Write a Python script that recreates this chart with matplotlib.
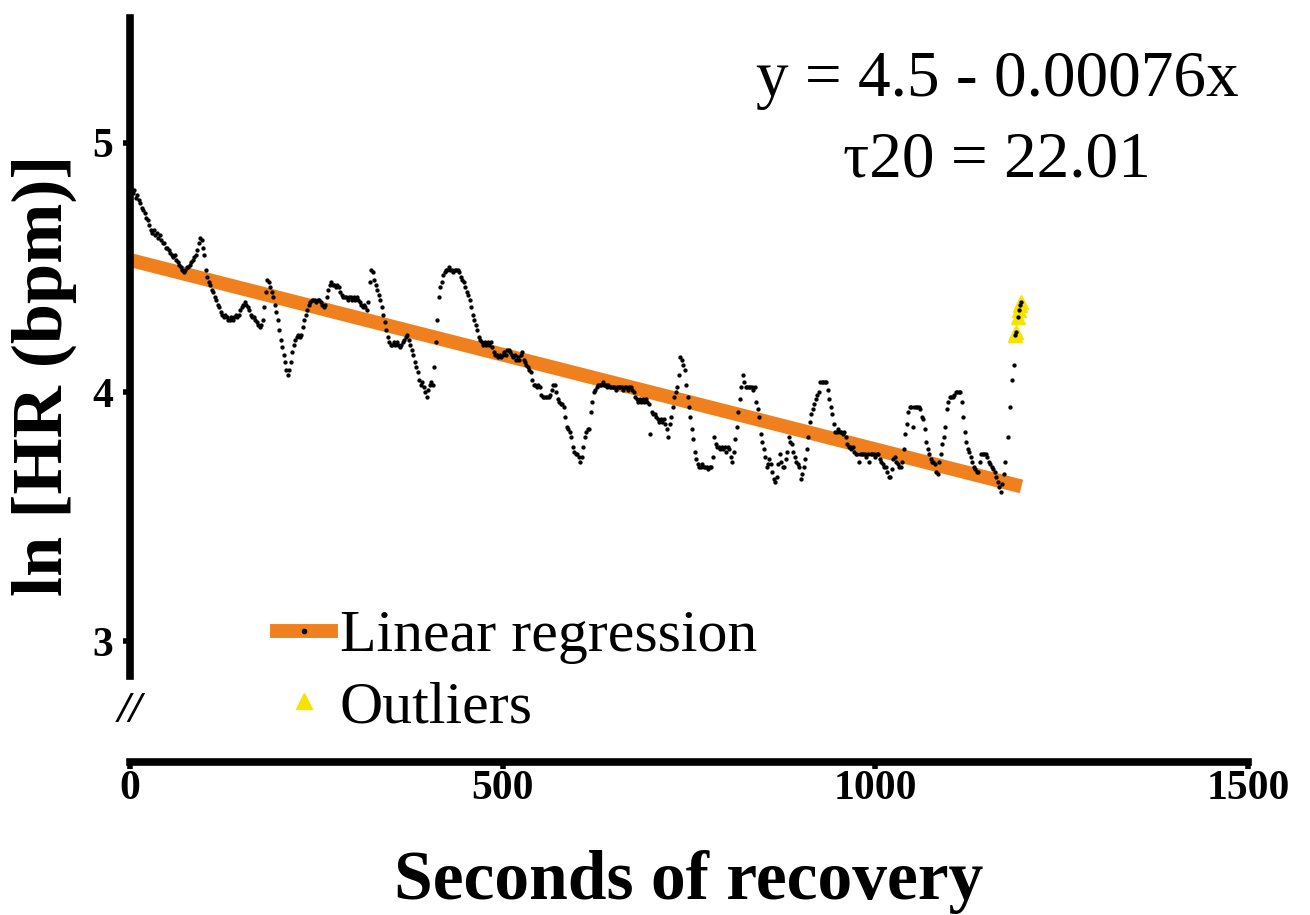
import numpy as np
import matplotlib.pyplot as plt
from matplotlib.lines import Line2D

plt.rcParams['font.family'] = ['Liberation Serif', 'DejaVu Serif']

# recovery trace: seconds and ln(HR)
sec = [2, 4, 6, 8, 10, 12, 14, 16, 18, 20, 22, 24, 26, 28, 30, 32, 34, 36, 38, 40,
       42, 44, 46, 48, 50, 52, 54, 56, 58, 60, 62, 64, 66, 68, 70, 72, 74, 76, 78, 80,
       82, 84, 86, 88, 90, 92, 94, 96, 98, 100, 102, 104, 106, 108, 110, 112, 114, 116, 118, 120,
       122, 124, 126, 128, 130, 132, 134, 136, 138, 140, 142, 144, 146, 148, 150, 152, 154, 156, 158, 160,
       162, 164, 166, 168, 170, 172, 174, 176, 178, 180, 182, 184, 186, 188, 190, 192, 194, 196, 198, 200,
       202, 204, 206, 208, 210, 212, 214, 216, 218, 220, 222, 224, 226, 228, 230, 232, 234, 236, 238, 240,
       242, 244, 246, 248, 250, 252, 254, 256, 258, 260, 262, 264, 266, 268, 270, 272, 274, 276, 278, 280,
       282, 284, 286, 288, 290, 292, 294, 296, 298, 300, 302, 304, 306, 308, 310, 312, 314, 316, 318, 320,
       322, 324, 326, 328, 330, 332, 334, 336, 338, 340, 342, 344, 346, 348, 350, 352, 354, 356, 358, 360,
       362, 364, 366, 368, 370, 372, 374, 376, 378, 380, 382, 384, 386, 388, 390, 392, 394, 396, 398, 400,
       402, 404, 406, 408, 410, 412, 414, 416, 418, 420, 422, 424, 426, 428, 430, 432, 434, 436, 438, 440,
       442, 444, 446, 448, 450, 452, 454, 456, 458, 460, 462, 464, 466, 468, 470, 472, 474, 476, 478, 480,
       482, 484, 486, 488, 490, 492, 494, 496, 498, 500, 502, 504, 506, 508, 510, 512, 514, 516, 518, 520,
       522, 524, 526, 528, 530, 532, 534, 536, 538, 540, 542, 544, 546, 548, 550, 552, 554, 556, 558, 560,
       562, 564, 566, 568, 570, 572, 574, 576, 578, 580, 582, 584, 586, 588, 590, 592, 594, 596, 598, 600,
       602, 604, 606, 608, 610, 612, 614, 616, 618, 620, 622, 624, 626, 628, 630, 632, 634, 636, 638, 640,
       642, 644, 646, 648, 650, 652, 654, 656, 658, 660, 662, 664, 666, 668, 670, 672, 674, 676, 678, 680,
       682, 684, 686, 688, 690, 692, 694, 696, 698, 700, 702, 704, 706, 708, 710, 712, 714, 716, 718, 720,
       722, 724, 726, 728, 730, 732, 734, 736, 738, 740, 742, 744, 746, 748, 750, 752, 754, 756, 758, 760,
       762, 764, 766, 768, 770, 772, 774, 776, 778, 780, 782, 784, 786, 788, 790, 792, 794, 796, 798, 800,
       802, 804, 806, 808, 810, 812, 814, 816, 818, 820, 822, 824, 826, 828, 830, 832, 834, 836, 838, 840,
       842, 844, 846, 848, 850, 852, 854, 856, 858, 860, 862, 864, 866, 868, 870, 872, 874, 876, 878, 880,
       882, 884, 886, 888, 890, 892, 894, 896, 898, 900, 902, 904, 906, 908, 910, 912, 914, 916, 918, 920,
       922, 924, 926, 928, 930, 932, 934, 936, 938, 940, 942, 944, 946, 948, 950, 952, 954, 956, 958, 960,
       962, 964, 966, 968, 970, 972, 974, 976, 978, 980, 982, 984, 986, 988, 990, 992, 994, 996, 998, 1000,
       1002, 1004, 1006, 1008, 1010, 1012, 1014, 1016, 1018, 1020, 1022, 1024, 1026, 1028, 1030, 1032, 1034, 1036, 1038, 1040,
       1042, 1044, 1046, 1048, 1050, 1052, 1054, 1056, 1058, 1060, 1062, 1064, 1066, 1068, 1070, 1072, 1074, 1076, 1078, 1080,
       1082, 1084, 1086, 1088, 1090, 1092, 1094, 1096, 1098, 1100, 1102, 1104, 1106, 1108, 1110, 1112, 1114, 1116, 1118, 1120,
       1122, 1124, 1126, 1128, 1130, 1132, 1134, 1136, 1138, 1140, 1142, 1144, 1146, 1148, 1150, 1152, 1154, 1156, 1158, 1160,
       1162, 1164, 1166, 1168, 1170, 1172, 1174, 1178, 1181, 1184, 1186]
ln_hr = [4.82, 4.80, 4.81, 4.78, 4.79, 4.77, 4.76, 4.74, 4.73, 4.72, 4.70, 4.69, 4.67, 4.65, 4.64, 4.65, 4.63, 4.64, 4.62, 4.63,
         4.61, 4.60, 4.60, 4.58, 4.58, 4.57, 4.56, 4.55, 4.54, 4.55, 4.53, 4.52, 4.51, 4.50, 4.49, 4.48, 4.49, 4.50, 4.50, 4.51,
         4.52, 4.53, 4.54, 4.55, 4.57, 4.60, 4.62, 4.61, 4.58, 4.55, 4.49, 4.46, 4.44, 4.43, 4.41, 4.40, 4.38, 4.37, 4.35, 4.34,
         4.32, 4.31, 4.30, 4.31, 4.30, 4.29, 4.29, 4.30, 4.29, 4.30, 4.31, 4.30, 4.31, 4.33, 4.34, 4.35, 4.36, 4.35, 4.34, 4.33,
         4.31, 4.30, 4.30, 4.29, 4.28, 4.27, 4.26, 4.27, 4.29, 4.34, 4.40, 4.45, 4.44, 4.42, 4.40, 4.38, 4.35, 4.32, 4.29, 4.25,
         4.21, 4.18, 4.15, 4.12, 4.09, 4.07, 4.09, 4.12, 4.16, 4.19, 4.21, 4.22, 4.23, 4.22, 4.23, 4.26, 4.29, 4.31, 4.33, 4.35,
         4.36, 4.37, 4.37, 4.37, 4.36, 4.37, 4.37, 4.36, 4.35, 4.34, 4.35, 4.38, 4.41, 4.43, 4.44, 4.43, 4.43, 4.42, 4.43, 4.42,
         4.40, 4.39, 4.38, 4.38, 4.38, 4.37, 4.38, 4.38, 4.37, 4.38, 4.37, 4.38, 4.37, 4.36, 4.35, 4.34, 4.35, 4.34, 4.33, 4.36,
         4.44, 4.49, 4.48, 4.45, 4.43, 4.41, 4.39, 4.37, 4.34, 4.31, 4.28, 4.25, 4.22, 4.20, 4.19, 4.19, 4.20, 4.19, 4.20, 4.19,
         4.18, 4.19, 4.20, 4.21, 4.22, 4.23, 4.21, 4.19, 4.17, 4.15, 4.12, 4.10, 4.08, 4.05, 4.03, 4.04, 4.02, 4.00, 3.98, 4.01,
         4.03, 4.04, 4.03, 4.10, 4.20, 4.29, 4.38, 4.42, 4.44, 4.47, 4.48, 4.49, 4.49, 4.50, 4.49, 4.49, 4.48, 4.49, 4.49, 4.49,
         4.48, 4.46, 4.45, 4.44, 4.42, 4.40, 4.39, 4.37, 4.34, 4.31, 4.29, 4.27, 4.25, 4.22, 4.21, 4.20, 4.19, 4.20, 4.19, 4.20,
         4.19, 4.20, 4.18, 4.16, 4.15, 4.15, 4.14, 4.15, 4.14, 4.15, 4.16, 4.15, 4.17, 4.17, 4.16, 4.15, 4.14, 4.15, 4.13, 4.14,
         4.13, 4.15, 4.16, 4.13, 4.12, 4.11, 4.10, 4.09, 4.08, 4.05, 4.03, 4.03, 4.02, 4.03, 4.02, 3.99, 3.98, 3.98, 3.98, 3.98,
         3.98, 3.99, 4.01, 4.03, 4.03, 4.00, 3.97, 3.96, 3.95, 3.95, 3.94, 3.90, 3.86, 3.85, 3.84, 3.82, 3.78, 3.76, 3.75, 3.75,
         3.74, 3.72, 3.74, 3.78, 3.82, 3.84, 3.85, 3.85, 3.92, 3.96, 4.00, 4.01, 4.02, 4.03, 4.03, 4.03, 4.04, 4.03, 4.03, 4.02,
         4.03, 4.02, 4.02, 4.02, 4.02, 4.01, 4.02, 4.02, 4.02, 4.02, 4.01, 4.02, 4.02, 4.01, 4.02, 4.02, 4.01, 4.00, 3.98, 3.97,
         3.96, 3.97, 3.96, 3.97, 3.96, 3.97, 3.96, 3.95, 3.83, 3.92, 3.91, 3.91, 3.90, 3.89, 3.88, 3.89, 3.88, 3.89, 3.87, 3.85,
         3.82, 3.87, 3.90, 3.94, 3.98, 4.00, 4.02, 4.07, 4.14, 4.13, 4.11, 4.09, 4.03, 3.98, 3.94, 3.90, 3.85, 3.81, 3.76, 3.73,
         3.71, 3.70, 3.70, 3.71, 3.70, 3.70, 3.70, 3.69, 3.70, 3.70, 3.74, 3.82, 3.79, 3.78, 3.78, 3.77, 3.78, 3.77, 3.78, 3.76,
         3.78, 3.77, 3.74, 3.72, 3.76, 3.81, 3.86, 3.92, 3.97, 4.02, 4.07, 4.04, 4.02, 4.02, 4.02, 4.02, 4.02, 4.01, 4.02, 3.96,
         3.93, 3.90, 3.83, 3.80, 3.77, 3.74, 3.70, 3.71, 3.73, 3.71, 3.68, 3.65, 3.64, 3.66, 3.71, 3.75, 3.72, 3.70, 3.70, 3.73,
         3.76, 3.82, 3.80, 3.79, 3.76, 3.74, 3.72, 3.71, 3.70, 3.65, 3.67, 3.70, 3.73, 3.77, 3.82, 3.88, 3.91, 3.93, 3.95, 3.97,
         3.99, 4.00, 4.04, 4.04, 4.04, 4.04, 4.04, 4.01, 3.97, 3.94, 3.91, 3.87, 3.84, 3.84, 3.85, 3.84, 3.84, 3.83, 3.84, 3.82,
         3.79, 3.78, 3.78, 3.77, 3.78, 3.76, 3.75, 3.75, 3.72, 3.75, 3.75, 3.75, 3.75, 3.74, 3.75, 3.72, 3.75, 3.75, 3.75, 3.74,
         3.75, 3.75, 3.73, 3.72, 3.71, 3.70, 3.70, 3.68, 3.66, 3.66, 3.69, 3.73, 3.74, 3.72, 3.71, 3.70, 3.70, 3.72, 3.77, 3.83,
         3.87, 3.92, 3.94, 3.94, 3.86, 3.94, 3.94, 3.94, 3.94, 3.93, 3.90, 3.89, 3.85, 3.80, 3.77, 3.75, 3.73, 3.72, 3.72, 3.71,
         3.68, 3.67, 3.72, 3.75, 3.79, 3.82, 3.86, 3.93, 3.96, 3.98, 3.98, 3.98, 3.99, 4.00, 4.00, 4.00, 4.00, 3.96, 3.90, 3.84,
         3.80, 3.77, 3.76, 3.74, 3.72, 3.70, 3.69, 3.68, 3.68, 3.72, 3.75, 3.75, 3.75, 3.75, 3.74, 3.72, 3.71, 3.70, 3.69, 3.68,
         3.66, 3.64, 3.62, 3.60, 3.63, 3.67, 3.72, 3.82, 3.94, 4.05, 4.11]

# points flagged as outliers at the end of recovery
out_sec = [1187, 1189, 1191, 1193, 1194, 1196]
out_ln = [4.23, 4.24, 4.30, 4.33, 4.35, 4.36]

# regression from the figure annotation
intercept = 4.53
slope = -0.00076
fit_sec = [0, 1196]

fig = plt.figure(figsize=(13.1, 9.15), dpi=100)
ax = fig.add_axes([0.0992, 0.1672, 0.8535, 0.8128])

fit_line = intercept + slope * np.array(fit_sec)
ax.plot(fit_sec, fit_line, color='#F0801E', lw=10, solid_capstyle='butt', zorder=2)
ax.plot(out_sec, out_ln, '^', color='#F7E300', ms=10, mec='#F7E300', zorder=3)
ax.plot(sec + out_sec, ln_hr + out_ln, 'o', color='black', ms=3.1, mew=0, zorder=4)

ax.set_xlim(0, 1500)
ax.set_ylim(2.515, 5.5)
ax.set_xticks([0, 500, 1000, 1500])
ax.set_yticks([3, 4, 5])
ax.spines['top'].set_visible(False)
ax.spines['right'].set_visible(False)
ax.spines['left'].set_bounds(2.86, 5.5)
ax.spines['left'].set_linewidth(5.5)
ax.spines['bottom'].set_linewidth(5.5)
ax.tick_params(width=4, length=5, labelsize=30, pad=1)
ax.tick_params(axis='y', pad=7)
for lab in ax.get_xticklabels() + ax.get_yticklabels():
    lab.set_fontweight('bold')

ax.set_xlabel('Seconds of recovery', fontsize=50, fontweight='bold', labelpad=30)
ax.set_ylabel('ln [HR (bpm)]', fontsize=52, fontweight='bold')
ax.yaxis.set_label_coords(-0.047, 0.52)

ax.text(0, 2.72, '//', fontsize=32, fontweight='bold', fontstyle='italic', ha='center', va='center')

ax.text(1163, 5.25, 'y = 4.5 - 0.00076x', fontsize=47, ha='center', va='center')
ax.text(1163, 4.93, 'τ20 = 22.01', fontsize=47, ha='center', va='center')

handles = [Line2D([], [], color='#F0801E', lw=10, marker='o', ms=3, mfc='black', mec='black'),
           Line2D([], [], color='none', marker='^', ms=11, mfc='#F7E300', mec='#F7E300')]
ax.legend(handles, ['Linear regression', 'Outliers'], loc='upper left',
          bbox_to_anchor=(0.105, 0.245), frameon=False, fontsize=43,
          handlelength=0.9, handletextpad=0.15, labelspacing=0.27, borderpad=0, numpoints=1)

plt.savefig('out.png', dpi=100)
